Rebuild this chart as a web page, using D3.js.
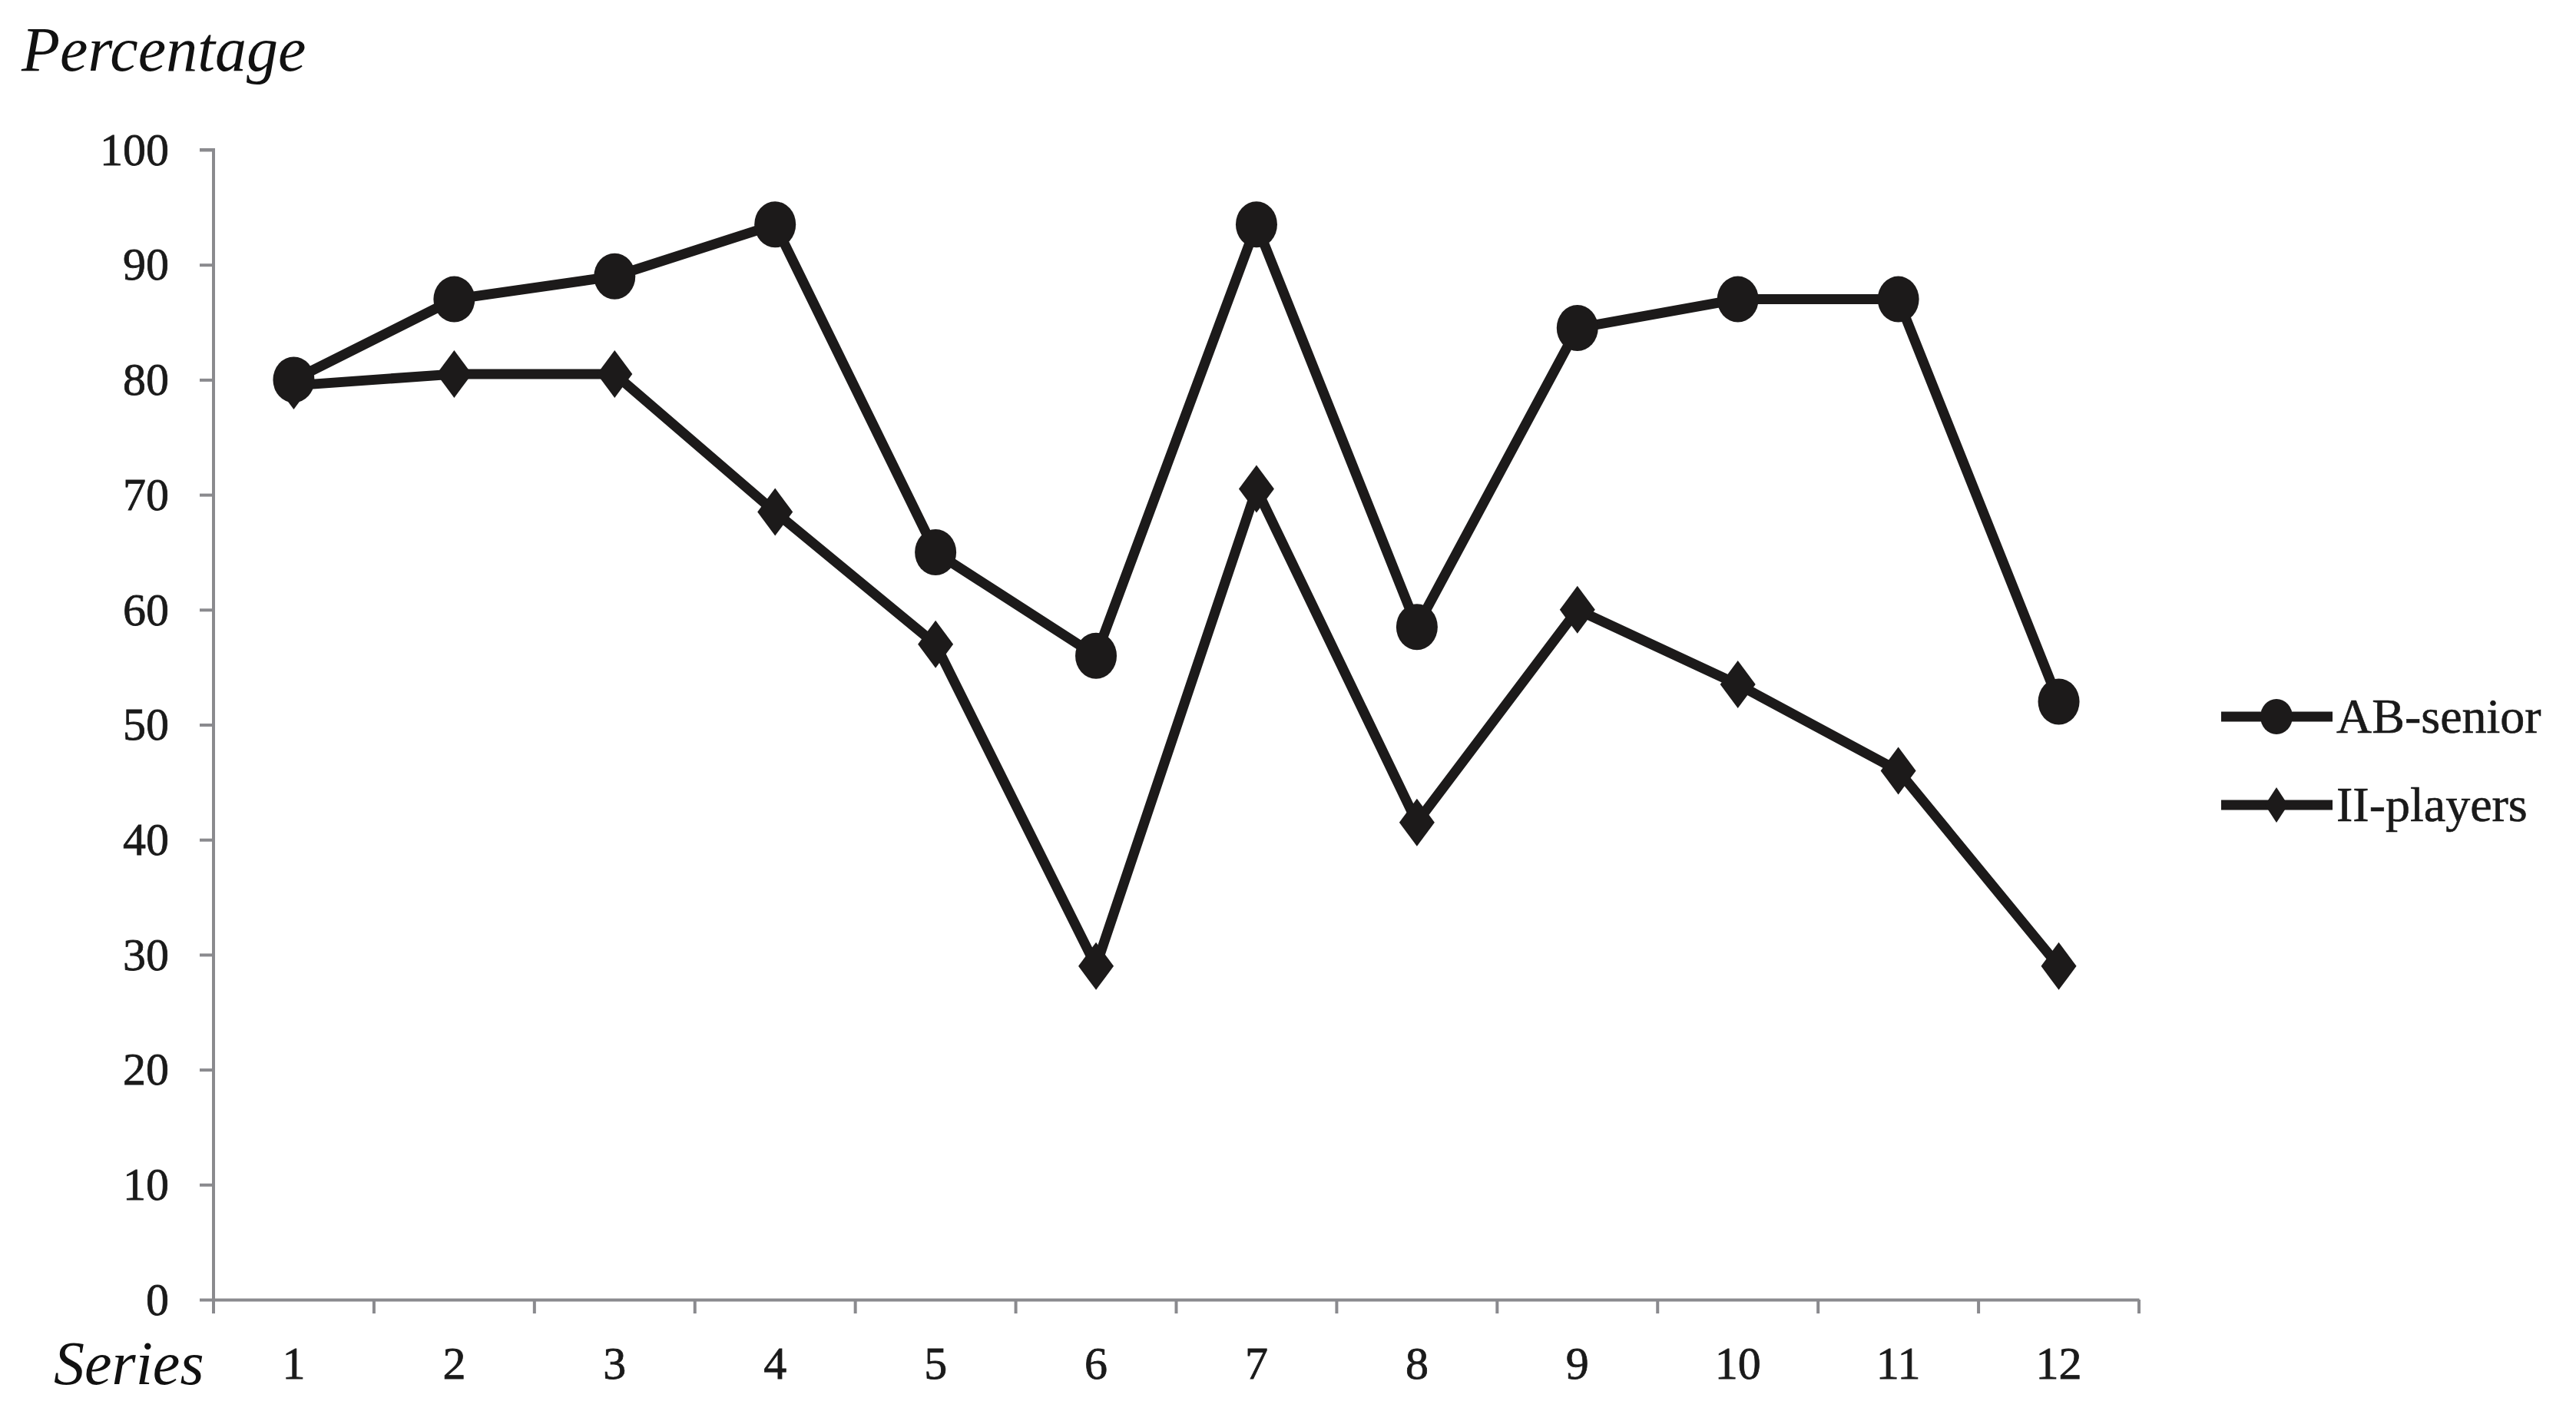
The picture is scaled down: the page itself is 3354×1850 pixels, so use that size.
<!DOCTYPE html>
<html><head><meta charset="utf-8">
<script src="https://cdn.jsdelivr.net/npm/d3@7"></script>
<style>body{margin:0;background:#fff;} svg{display:block;}</style>
</head><body>
<script>
const categories = ["1","2","3","4","5","6","7","8","9","10","11","12"];
const abSenior = [80, 87, 89, 93.5, 65, 56, 93.5, 58.5, 84.5, 87, 87, 52];
const iiPlayers = [79.5, 80.5, 80.5, 68.5, 57, 29, 70.5, 41.5, 60, 53.5, 46, 29];
const yTicks = [0,10,20,30,40,50,60,70,80,90,100];
const seriesNames = ["AB-senior", "II-players"];

const W = 3354, H = 1850;
const svg = d3.select("body").append("svg").attr("width", W).attr("height", H);
const x0 = 278, x1 = 2785, yBottom = 1692, yTop = 195;
const x = d3.scaleBand().domain(categories).range([x0, x1]).paddingInner(0).paddingOuter(0);
const y = d3.scaleLinear().domain([0, 100]).range([yBottom, yTop]);
const axisColor = "#8a8a8e";
const serif = "'Liberation Serif', 'DejaVu Serif', serif";
const txt = "#1a1a1a";

// Y axis
const yAxis = svg.append("g").attr("transform", `translate(${x0},0)`)
  .call(d3.axisLeft(y).tickValues(yTicks).tickSize(18).tickPadding(40).tickFormat(d3.format("d")));
yAxis.select(".domain").attr("stroke", axisColor).attr("stroke-width", 4)
  .attr("d", `M-18,${yTop}H0V${yBottom + 18}`);
yAxis.selectAll(".tick line").attr("stroke", axisColor).attr("stroke-width", 4);
yAxis.selectAll(".tick text").attr("font-family", serif).attr("font-size", 60).attr("fill", txt)
  .attr("stroke", txt).attr("stroke-width", 0.8);

// X axis (labels)
const xAxis = svg.append("g").attr("transform", `translate(0,${yBottom})`)
  .call(d3.axisBottom(x).tickSize(0).tickPadding(60));
xAxis.select(".domain").attr("stroke", axisColor).attr("stroke-width", 4);
xAxis.selectAll(".tick text").attr("font-family", serif).attr("font-size", 60).attr("fill", txt)
  .attr("stroke", txt).attr("stroke-width", 0.8);
// boundary ticks
const bounds = categories.map(c => x(c)).concat([x1]);
svg.append("g").selectAll("line").data(bounds).join("line")
  .attr("x1", d => d).attr("x2", d => d)
  .attr("y1", yBottom).attr("y2", yBottom + 18)
  .attr("stroke", axisColor).attr("stroke-width", 4);

// Titles
svg.append("text").attr("x", 28).attr("y", 92).attr("font-family", serif).attr("font-style", "italic")
  .attr("font-size", 82).attr("fill", "#111").text("Percentage");
svg.append("text").attr("x", 70).attr("y", 1802).attr("font-family", serif).attr("font-style", "italic")
  .attr("font-size", 80).attr("fill", "#111").text("Series");

const cx = (d, i) => x(categories[i]) + x.bandwidth() / 2;
const line = d3.line().x((d, i) => cx(d, i)).y(d => y(d));
const ink = "#1c1a1a";

// II-players
svg.append("path").datum(iiPlayers).attr("d", line).attr("fill", "none")
  .attr("stroke", ink).attr("stroke-width", 13).attr("stroke-linejoin", "miter");
const diamond = (w, h) => `M0,${-h}L${w},0L0,${h}L${-w},0Z`;
svg.append("g").selectAll("path").data(iiPlayers).join("path")
  .attr("transform", (d, i) => `translate(${cx(d, i)},${y(d)})`)
  .attr("d", diamond(23, 31)).attr("fill", ink);

// AB-senior
svg.append("path").datum(abSenior).attr("d", line).attr("fill", "none")
  .attr("stroke", ink).attr("stroke-width", 13).attr("stroke-linejoin", "miter");
svg.append("g").selectAll("ellipse").data(abSenior).join("ellipse")
  .attr("cx", (d, i) => cx(d, i)).attr("cy", d => y(d)).attr("rx", 27).attr("ry", 30).attr("fill", ink);

// Legend
const legY = [933, 1048];
const lg = svg.append("g");
seriesNames.forEach((name, k) => {
  const ly = legY[k];
  lg.append("line").attr("x1", 2892).attr("x2", 3037).attr("y1", ly).attr("y2", ly)
    .attr("stroke", ink).attr("stroke-width", 13);
  if (k === 0) lg.append("ellipse").attr("cx", 2964).attr("cy", ly).attr("rx", 21).attr("ry", 23).attr("fill", ink);
  else lg.append("path").attr("transform", `translate(2964,${ly})`).attr("d", diamond(15, 23)).attr("fill", ink);
  lg.append("text").attr("x", 3042).attr("y", ly + 21).attr("font-family", serif).attr("font-size", 64)
    .attr("fill", txt).attr("stroke", txt).attr("stroke-width", 0.6).text(name);
});
</script>
</body></html>
